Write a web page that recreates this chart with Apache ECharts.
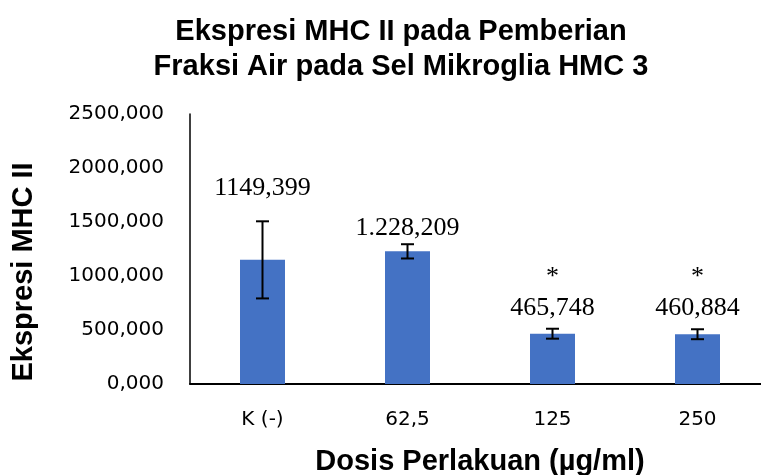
<!DOCTYPE html>
<html>
<head>
<meta charset="utf-8">
<script src="https://cdn.jsdelivr.net/npm/echarts@6/dist/echarts.min.js"></script>
<style>
  html, body { margin: 0; padding: 0; background: #fff; }
  #chart { width: 761px; height: 475px; }
</style>
</head>
<body>
<div id="chart"></div>
<script>
const categories = ['K (-)', '62,5', '125', '250']
const meanValues = [1149.399, 1228.209, 465.748, 460.884]
const errorValues = [357, 66, 46, 46]
const valueLabels = ['1149,399', '1.228,209', '465,748', '460,884']
const signifMarks = ['', '', '*', '*']
const yTicks = { min: 0, max: 2500, interval: 500 }

const BAR_COLOR = '#4472C4'
const labelDistance = [59, 10, 13, 13]

const chart = echarts.init(document.getElementById('chart'))

const barData = meanValues.map((v, i) => ({
  value: v,
  label: {
    distance: labelDistance[i],
    formatter: signifMarks[i] ? '{s|' + signifMarks[i] + '}\n{v|' + valueLabels[i] + '}' : '{v|' + valueLabels[i] + '}',
  },
}))

const errData = meanValues.map((v, i) => [i, v - errorValues[i], v + errorValues[i]])

chart.setOption({
  animation: false,
  title: {
    text: 'Ekspresi MHC II pada Pemberian\nFraksi Air pada Sel Mikroglia HMC 3',
    left: 396,
    textAlign: 'center',
    top: 9,
    textStyle: { fontFamily: 'Liberation Sans, Arial', fontWeight: 'bold', fontSize: 29, lineHeight: 35, color: '#000' },
  },
  grid: { left: 190, right: -9, top: 114, bottom: 91, outerBoundsMode: 'none', containLabel: false },
  xAxis: {
    type: 'category',
    data: categories,
    name: 'Dosis Perlakuan (µg/ml)',
    nameLocation: 'middle',
    nameGap: 63,
    nameTextStyle: { fontFamily: 'Liberation Sans, Arial', fontWeight: 'bold', fontSize: 29, color: '#000' },
    axisLine: { lineStyle: { color: '#000', width: 2 } },
    axisTick: { show: false },
    axisLabel: { fontFamily: 'DejaVu Sans', fontSize: 20, color: '#000', margin: 26 },
  },
  yAxis: {
    type: 'value',
    min: yTicks.min,
    max: yTicks.max,
    interval: yTicks.interval,
    name: 'Ekspresi MHC II',
    nameLocation: 'middle',
    nameGap: 152,
    nameTextStyle: { fontFamily: 'Liberation Sans, Arial', fontWeight: 'bold', fontSize: 29, color: '#000', padding: [0, 46, 0, 0] },
    axisLine: { show: true, lineStyle: { color: '#000', width: 1.5 } },
    axisTick: { show: false },
    splitLine: { show: false },
    axisLabel: {
      fontFamily: 'DejaVu Sans', fontSize: 20, color: '#000', margin: 26,
      formatter: v => v.toFixed(3).replace('.', ','),
    },
  },
  series: [
    {
      type: 'bar',
      data: barData,
      barWidth: 45,
      itemStyle: { color: BAR_COLOR },
      label: {
        show: true,
        position: 'top',
        rich: {
          s: { fontFamily: 'Liberation Serif, Times New Roman', fontSize: 26, lineHeight: 36, color: '#000' },
          v: { fontFamily: 'Liberation Serif, Times New Roman', fontSize: 26, lineHeight: 26, color: '#000' },
        },
      },
      z: 2,
    },
    {
      type: 'custom',
      data: errData,
      encode: { x: 0, y: [1, 2] },
      z: 3,
      renderItem: (params, api) => {
        const lo = api.coord([api.value(0), api.value(1)])
        const hi = api.coord([api.value(0), api.value(2)])
        const half = 6.5
        const style = { stroke: '#000', lineWidth: 2 }
        return {
          type: 'group',
          children: [
            { type: 'line', shape: { x1: hi[0], y1: hi[1], x2: lo[0], y2: lo[1] }, style },
            { type: 'line', shape: { x1: hi[0] - half, y1: hi[1], x2: hi[0] + half, y2: hi[1] }, style },
            { type: 'line', shape: { x1: lo[0] - half, y1: lo[1], x2: lo[0] + half, y2: lo[1] }, style },
          ],
        }
      },
    },
  ],
})
</script>
</body>
</html>
